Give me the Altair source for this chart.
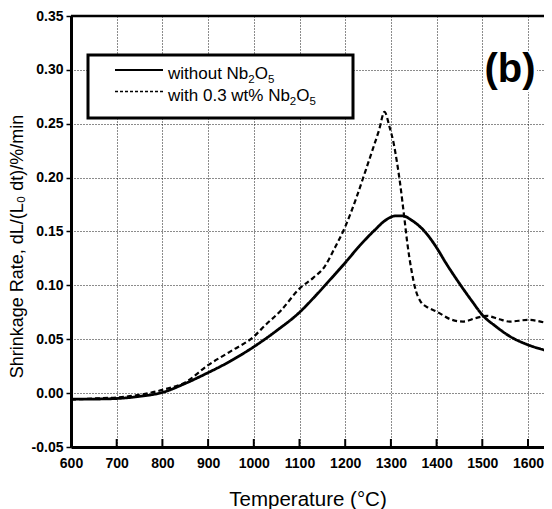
import altair as alt
import pandas as pd

# ---- data ----
temp_without = [600, 650, 700, 750, 800, 850, 900, 950, 1000, 1050, 1100, 1130, 1160,
                1200, 1230, 1265, 1290, 1310, 1325, 1347, 1376, 1400, 1420, 1452, 1478,
                1500, 1530, 1559, 1600, 1636]
rate_without = [-0.0056, -0.0055, -0.005, -0.003, 0.0006, 0.009, 0.019, 0.030, 0.043,
                0.058, 0.075, 0.088, 0.102, 0.121, 0.136, 0.1515, 0.161, 0.1645, 0.1645,
                0.160, 0.149, 0.135, 0.121, 0.1005, 0.085, 0.0726, 0.0618, 0.053, 0.0448,
                0.040]

temp_with = [600, 650, 700, 750, 800, 850, 900, 950, 1000, 1025, 1060, 1100, 1130, 1155,
             1175, 1200, 1225, 1245, 1260, 1274, 1286, 1297, 1306, 1313, 1320, 1329, 1336,
             1345, 1354, 1365, 1383, 1400, 1430, 1458, 1485, 1510, 1537, 1560, 1600, 1636]
rate_with = [-0.006, -0.005, -0.004, -0.0016, 0.003, 0.010, 0.026, 0.039, 0.0525, 0.063,
             0.077, 0.097, 0.107, 0.1175, 0.133, 0.1545, 0.182, 0.207, 0.226, 0.244, 0.261,
             0.247, 0.232, 0.215, 0.195, 0.164, 0.139, 0.114, 0.096, 0.085, 0.079, 0.0757,
             0.0686, 0.0664, 0.0696, 0.0717, 0.0686, 0.0664, 0.068, 0.0655]

series_names = ["without Nb\u2082O\u2085", "with 0.3 wt% Nb\u2082O\u2085"]
# legend text pieces: (text, is_subscript)
legend_pieces = [
    [("without Nb", False), ("2", True), ("O", False), ("5", True)],
    [("with 0.3 wt% Nb", False), ("2", True), ("O", False), ("5", True)],
]
x_ticks = [600, 700, 800, 900, 1000, 1100, 1200, 1300, 1400, 1500, 1600]
y_ticks = [-0.05, 0.0, 0.05, 0.10, 0.15, 0.20, 0.25, 0.30, 0.35]
x_title = "Temperature (\u00b0C)"
y_title = "Shrinkage Rate, dL/(L\u2080 dt)/%/min"
panel_label = "(b)"

df = pd.concat([
    pd.DataFrame({"T": temp_without, "rate": rate_without, "series": series_names[0]}),
    pd.DataFrame({"T": temp_with, "rate": rate_with, "series": series_names[1]}),
], ignore_index=True)
tick_df = pd.DataFrame({"T": x_ticks})
one = pd.DataFrame({"a": [0]})

FONT = "Liberation Sans"
W, H = 473, 431

# Arial / Liberation Sans advance widths (em) for legend layout
ADV = {"w": .722, "i": .222, "t": .278, "h": .556, "o": .556, "u": .556, " ": .278,
       "N": .722, "b": .556, "O": .778, "0": .556, ".": .278, "3": .556, "%": .889,
       "2": .556, "5": .556}
MAIN_FS, SUB_FS = 17, 11.5
rows = []
for line_idx, pieces in enumerate(legend_pieces):
    cx = 97.0
    base = 63 + 22 * line_idx
    for txt, sub in pieces:
        fs = SUB_FS if sub else MAIN_FS
        rows.append({"txt": txt, "px": cx, "py": base + (4 if sub else 0), "fs": fs})
        cx += sum(ADV.get(c, 0.556) for c in txt) * fs
leg_df = pd.DataFrame(rows)

xscale = alt.Scale(domain=[600, 1635], nice=False, zero=False)
yscale = alt.Scale(domain=[-0.05, 0.35], nice=False, zero=False)

x_axis = alt.Axis(
    values=x_ticks, grid=True, gridDash=[1, 2], gridColor="black", gridWidth=1,
    gridOpacity=0.9, ticks=False, domain=True, domainWidth=3, domainColor="black",
    labelFont=FONT, labelFontSize=14, labelFontWeight="bold", labelColor="black",
    labelPadding=9, labelFlush=False, labelOverlap=False, format="d",
    title=x_title, titleFont=FONT, titleFontSize=20.5, titleFontWeight="normal",
    titleColor="black", titleY=58, titleBaseline="alphabetic",
)
y_axis = alt.Axis(
    values=y_ticks, grid=True, gridDash=[1, 2], gridColor="black", gridWidth=1,
    gridOpacity=0.9, ticks=True, tickSize=5, tickWidth=1.5, tickColor="black",
    domain=True, domainWidth=3, domainColor="black",
    labelFont=FONT, labelFontSize=14, labelFontWeight="bold", labelColor="black",
    labelPadding=3, labelOverlap=False,
    labelExpr="datum.value < 0 ? '-' + format(-datum.value, '.2f') : format(datum.value, '.2f')",
    title=y_title, titleFont=FONT, titleFontSize=18, titleFontWeight="normal",
    titleColor="black", titleAngle=270, titleX=-48.5, titleY=230,
    titleBaseline="alphabetic",
)

lines = alt.Chart(df).mark_line(color="black", clip=True, interpolate="monotone").encode(
    x=alt.X("T:Q", scale=xscale, axis=x_axis),
    y=alt.Y("rate:Q", scale=yscale, axis=y_axis),
    strokeDash=alt.StrokeDash("series:N", scale=alt.Scale(domain=series_names, range=[[1, 0], [5, 3]]), legend=None),
    strokeWidth=alt.StrokeWidth("series:N", scale=alt.Scale(domain=series_names, range=[2.8, 2.2]), legend=None),
)

inner_ticks = alt.Chart(tick_df).mark_rule(color="black", strokeWidth=2).encode(
    x=alt.X("T:Q", scale=xscale, axis=x_axis),
    y=alt.value(H),
    y2=alt.value(H - 8),
)

top_border = alt.Chart(one).mark_rule(color="black", strokeWidth=2.5).encode(
    x=alt.value(0), x2=alt.value(W), y=alt.value(0)
)

legend_box = alt.Chart(one).mark_rect(fill="white", stroke="black", strokeWidth=3).encode(
    x=alt.value(17), x2=alt.value(282), y=alt.value(39), y2=alt.value(102)
)
leg_solid = alt.Chart(one).mark_rule(color="black", strokeWidth=2).encode(
    x=alt.value(44), x2=alt.value(92), y=alt.value(54)
)
leg_dash = alt.Chart(one).mark_rule(color="black", strokeWidth=1.6, strokeDash=[3, 2]).encode(
    x=alt.value(44), x2=alt.value(92), y=alt.value(75.5)
)
leg_text = alt.Chart(leg_df).mark_text(align="left", baseline="alphabetic", font=FONT,
                                        color="black").encode(
    x=alt.X("px:Q", scale=None),
    y=alt.Y("py:Q", scale=None),
    size=alt.Size("fs:Q", scale=None),
    text="txt:N",
)

label_bg = alt.Chart(one).mark_rect(fill="white").encode(
    x=alt.value(412), x2=alt.value(466), y=alt.value(35), y2=alt.value(76)
)
label_text = alt.Chart(one).mark_text(align="center", baseline="alphabetic", font=FONT,
                                       fontSize=40, fontWeight="bold", color="black").encode(
    x=alt.value(439), y=alt.value(66), text=alt.value(panel_label)
)

chart = alt.layer(
    lines, inner_ticks, top_border, legend_box, leg_solid, leg_dash, leg_text,
    label_bg, label_text,
).properties(
    width=W, height=H,
    padding={"left": 63, "top": 8, "right": 0, "bottom": 62},
    autosize=alt.AutoSizeParams(type="none"),
    background="white",
).configure_view(stroke=None)

chart.save("out.html", embed_options={"renderer": "svg", "actions": False})
